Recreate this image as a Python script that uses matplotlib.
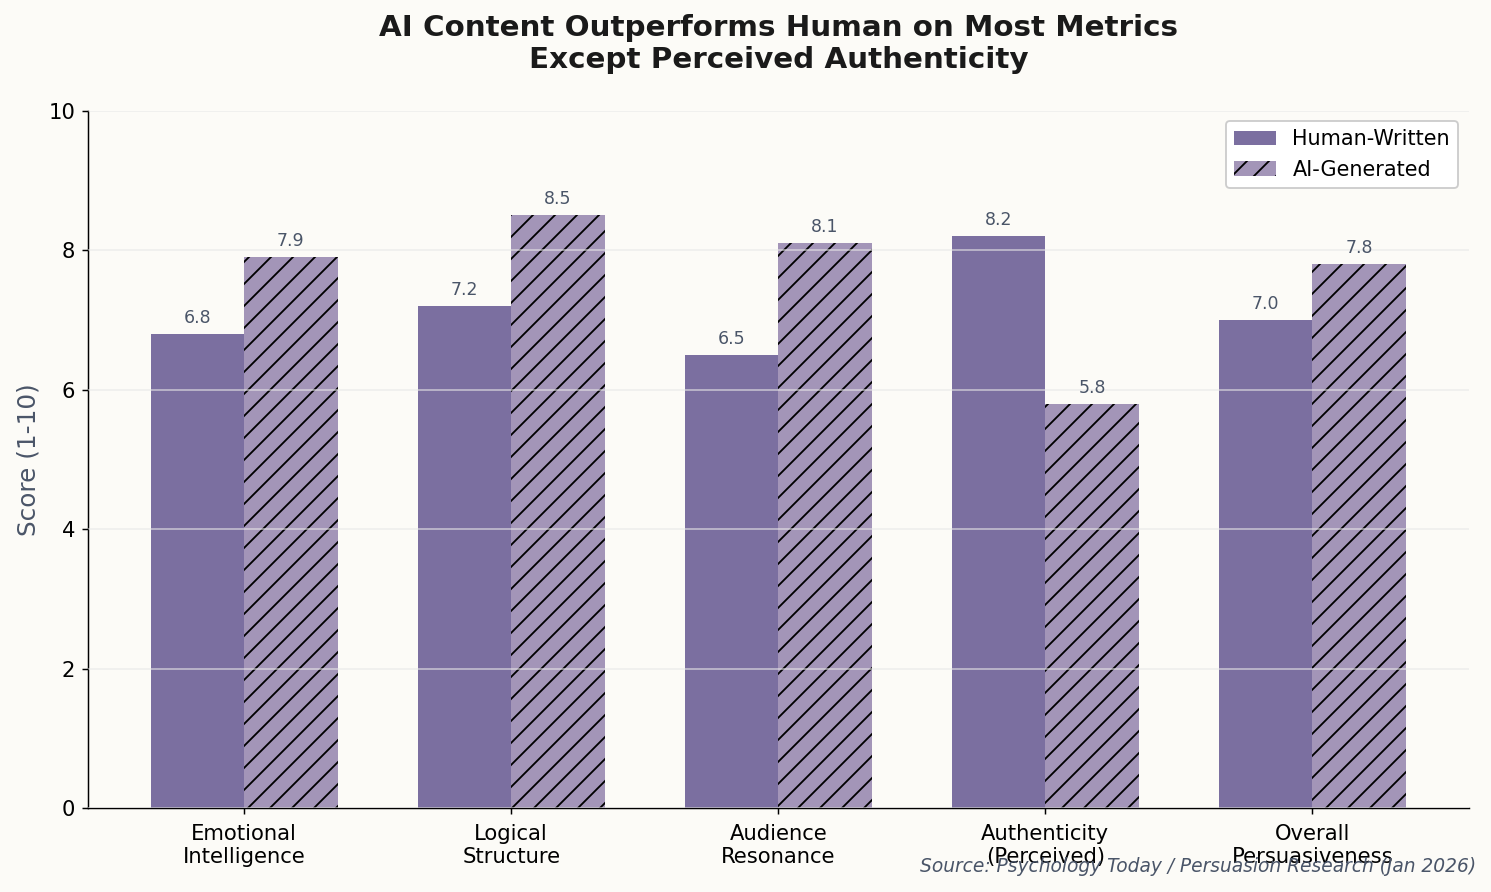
import matplotlib.pyplot as plt
import numpy as np

categories = ["Emotional\nIntelligence", "Logical\nStructure", "Audience\nResonance",
              "Authenticity\n(Perceived)", "Overall\nPersuasiveness"]
human = [6.8, 7.2, 6.5, 8.2, 7.0]
ai = [7.9, 8.5, 8.1, 5.8, 7.8]

bg = "#FCFBF7"
c_human = "#7B6FA0"
c_ai = "#A395B8"
c_text = "#4A5568"

DPI = 132
fig, ax = plt.subplots(figsize=(1491 / DPI, 892 / DPI), dpi=DPI)
fig.patch.set_facecolor(bg)
ax.set_facecolor(bg)

x = np.arange(len(categories))
w = 0.35
b1 = ax.bar(x - w/2, human, w, color=c_human, label="Human-Written", zorder=2)
b2 = ax.bar(x + w/2, ai, w, color=c_ai, label="AI-Generated", hatch="//",
            edgecolor="black", linewidth=0, zorder=2)

for bars in (b1, b2):
    for b in bars:
        ax.text(b.get_x() + b.get_width()/2, b.get_height() + 0.1, f"{b.get_height():.1f}",
                ha="center", va="bottom", fontsize=9.5, color=c_text)

ax.set_ylim(0, 10)
ax.set_xticks(x)
ax.set_xticklabels(categories, fontsize=11.5)
ax.tick_params(axis="x", pad=5)
ax.tick_params(axis="y", labelsize=11.5)
ax.set_ylabel("Score (1-10)", fontsize=13.5, color=c_text)
ax.yaxis.grid(True, color="#E8E8E8", alpha=0.6, linewidth=1, zorder=3)
ax.set_axisbelow(False)
ax.spines["top"].set_visible(False)
ax.spines["right"].set_visible(False)

ax.set_title("AI Content Outperforms Human on Most Metrics\nExcept Perceived Authenticity",
             fontsize=16, fontweight="bold", color="#1A1A1A", pad=23)
ax.legend(fontsize=11.3, loc="upper right", framealpha=1)

fig.text(0.99, 0.018, "Source: Psychology Today / Persuasion Research (Jan 2026)",
         ha="right", va="bottom", fontsize=10.2, style="italic", color=c_text)

fig.subplots_adjust(left=0.059, right=0.985, top=0.876, bottom=0.094)
fig.savefig("out.png", dpi=DPI, facecolor=bg)
